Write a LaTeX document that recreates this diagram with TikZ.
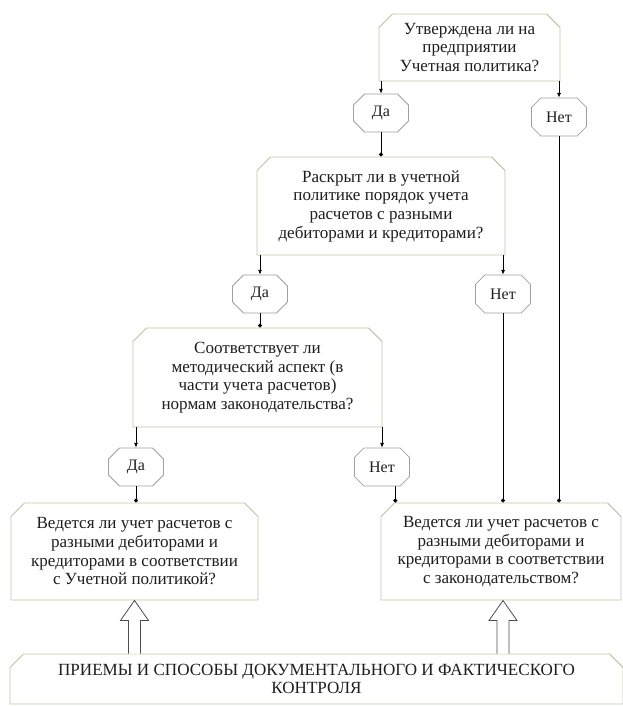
\documentclass[tikz,border=0pt]{standalone}
\usepackage{fontspec}
\setmainfont{Liberation Serif}
\usetikzlibrary{shapes.misc, arrows.meta, calc}

\definecolor{boxline}{RGB}{188,198,168}
\definecolor{octline}{RGB}{160,160,160}
\definecolor{txtcol}{RGB}{30,30,30}

% hollow upward arrow from #1 to #2
\newcommand{\hollowup}[2]{%
  \draw[hollow] let \p1=(#1), \p2=(#2) in
    (\x1-4.5pt,\y1) -- (\x1-4.5pt,\y2-15pt) -- (\x1-10.5pt,\y2-15pt) -- (\x1,\y2)
    -- (\x1+10.5pt,\y2-15pt) -- (\x1+4.5pt,\y2-15pt) -- (\x1+4.5pt,\y1);}

\begin{document}
\begin{tikzpicture}[x=0.75pt, y=-0.75pt,
  question/.style={chamfered rectangle, chamfered rectangle corners={north west, north east},
    chamfered rectangle xsep=7pt, draw=boxline, line width=0.7pt, align=center,
    inner sep=0pt, font=\rmfamily\fontsize{12.8}{14}\selectfont, text=txtcol},
  answer/.style={chamfered rectangle, chamfered rectangle xsep=8pt, draw=octline,
    line width=0.6pt, minimum width=41.25pt, minimum height=28.5pt, inner sep=0pt,
    font=\rmfamily\fontsize{12}{13}\selectfont, text=txtcol},
  toans/.style={-{Latex[length=3.5pt,width=3pt]}, line width=0.6pt},
  tobox/.style={-{Circle[length=3pt]}, line width=0.6pt},
  hollow/.style={draw=black!70, line width=0.6pt, fill=white}]

  \useasboundingbox (0,0) rectangle (623,706);

  % вопросы
  \node[question, minimum width=135.75pt, minimum height=50.25pt] (q1) at (469.5,47.5)
    {Утверждена ли на\\предприятии\\Учетная политика?};
  \node[question, minimum width=186pt, minimum height=73.5pt] (q2) at (381,206)
    {Раскрыт ли в учетной\\политике порядок учета\\расчетов с разными\\дебиторами и кредиторами?};
  \node[question, minimum width=186.75pt, minimum height=74.25pt] (q3) at (257.5,377.5)
    {Соответствует ли\\методический аспект (в\\части учета расчетов)\\нормам законодательства?};
  \node[question, minimum width=185.25pt, minimum height=72.75pt] (q4) at (134.5,551.5)
    {Ведется ли учет расчетов с\\разными дебиторами и\\кредиторами в соответствии\\с Учетной политикой?};
  \node[question, minimum width=180pt, minimum height=72.75pt] (q5) at (501,551.5)
    {Ведется ли учет расчетов с\\разными дебиторами и\\кредиторами в соответствии\\с законодательством?};
  \node[question, minimum width=459.75pt, minimum height=37.5pt] (ctrl) at (316.5,679)
    {ПРИЕМЫ И СПОСОБЫ ДОКУМЕНТАЛЬНОГО И ФАКТИЧЕСКОГО\\КОНТРОЛЯ};

  % ответы
  \node[answer] (da1) at (381,113) {Да};
  \node[answer] (net1) at (559,117) {Нет};
  \node[answer] (da2) at (260,294) {Да};
  \node[answer] (net2) at (503,294) {Нет};
  \node[answer] (da3) at (136,467) {Да};
  \node[answer] (net3) at (382,467) {Нет};

  \draw[toans] (da1.north |- q1.south) -- (da1.north);
  \draw[toans] (net1.north |- q1.south) -- (net1.north);
  \draw[tobox] (da1.south) -- (da1.south |- q2.north);

  \draw[toans] (da2.north |- q2.south) -- (da2.north);
  \draw[toans] (net2.north |- q2.south) -- (net2.north);
  \draw[tobox] (da2.south) -- (da2.south |- q3.north);

  \draw[toans] (da3.north |- q3.south) -- (da3.north);
  \draw[toans] (net3.north |- q3.south) -- (net3.north);
  \draw[tobox] (da3.south) -- (da3.south |- q4.north);

  \coordinate (n3out) at ($(net3.south)+(10pt,0)$);
  \draw[tobox] (n3out) -- (n3out |- q5.north);
  \draw[tobox] (net2.south) -- (net2.south |- q5.north);
  \draw[tobox] (net1.south) -- (net1.south |- q5.north);

  \hollowup{ctrl.north -| q4.south}{q4.south}
  \hollowup{ctrl.north -| net2.south}{net2.south |- q5.south}
\end{tikzpicture}
\end{document}
